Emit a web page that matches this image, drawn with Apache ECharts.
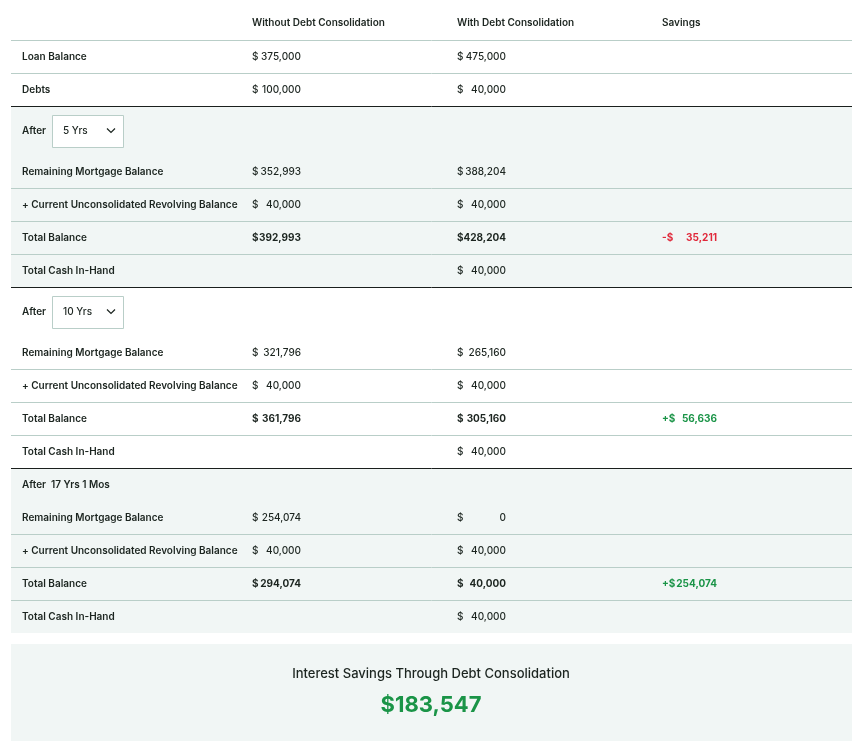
<!DOCTYPE html>
<html><head><meta charset="utf-8">
<script src="https://cdn.jsdelivr.net/npm/echarts@6/dist/echarts.min.js"></script>
<style>html,body{margin:0;padding:0;background:#fff}#c{width:863px;height:753px}</style>
</head><body><div id="c"></div>
<script>
const columns = ['Without Debt Consolidation', 'With Debt Consolidation', 'Savings'];
const topLabels = ['Loan Balance', 'Debts'];
const topWithout = [375000, 100000];
const topWith = [475000, 40000];
const periods = ['5 Yrs', '10 Yrs', '17 Yrs 1 Mos'];
const rowLabels = ['Remaining Mortgage Balance', '+ Current Unconsolidated Revolving Balance', 'Total Balance', 'Total Cash In-Hand'];
const remainingWithout = [352993, 321796, 254074];
const remainingWith = [388204, 265160, 0];
const revolvingWithout = [40000, 40000, 40000];
const revolvingWith = [40000, 40000, 40000];
const totalWithout = [392993, 361796, 294074];
const totalWith = [428204, 305160, 40000];
const savings = [-35211, 56636, 254074];
const cashInHand = [40000, 40000, 40000];
const interestSavings = 183547;

const FONT = 'Inter, "Noto Sans", sans-serif';
const INK = '#1c2520';
const SHADE = '#f1f6f5';
const THIN = '#b9cec8';
const X0 = 11, X1 = 852;
const COL = [22, 252, 457, 662];
const NUM_R = [301, 506, 717];
const g = [];
const fmt = v => v.toLocaleString('en-US');

function text(x, y, s, opt) {
  g.push({type: 'text', x: x, y: y, style: Object.assign({text: s, fill: INK, font: '500 10px ' + FONT, textVerticalAlign: 'middle'}, opt || {})});
}
function hline(y, color) {
  g.push({type: 'line', shape: {x1: X0, y1: y, x2: X1, y2: y}, style: {stroke: color, lineWidth: 1}});
}
function money(col, y, v, bold, color) {
  const font = (bold ? '700' : '500') + ' 10px ' + FONT;
  const fill = color || INK;
  const prefix = v < 0 ? '-$' : (color && v > 0 ? '+$' : '$');
  text(COL[col + 1], y, prefix, {font: font, fill: fill});
  text(NUM_R[col], y, fmt(Math.abs(v)), {font: font, fill: fill, textAlign: 'right'});
}

// header
columns.forEach((c, i) => text(COL[i + 1], 23, c, {font: '600 10px ' + FONT}));
hline(40.5, THIN);
topLabels.forEach((l, i) => {
  const y = 40 + i * 33 + 16.5;
  text(COL[0], y, l, {font: '600 10px ' + FONT});
  money(0, y, topWithout[i]);
  money(1, y, topWith[i]);
  if (i === 0) hline(73.5, THIN);
});

const starts = [106, 287, 468];
starts.forEach((y0, s) => {
  const headH = s < 2 ? 49 : 33;
  if (s !== 1) g.push({type: 'rect', shape: {x: X0, y: y0, width: X1 - X0, height: headH + 4 * 33}, style: {fill: SHADE}});
  hline(y0 + 0.5, '#1a1f1d');
  if (s < 2) {
    const hy = y0 + 24.5;
    text(COL[0], hy, 'After', {font: '600 10px ' + FONT});
    g.push({type: 'rect', shape: {x: 52.5, y: y0 + 9.5, width: 71, height: 32}, style: {fill: '#fff', stroke: THIN, lineWidth: 1}});
    text(63, hy, periods[s]);
    g.push({type: 'polyline', shape: {points: [[107, hy - 2], [111, hy + 2], [115, hy - 2]]}, style: {stroke: INK, lineWidth: 1.2, fill: null}});
  } else {
    text(COL[0], y0 + 16.5, 'After  ' + periods[s], {font: '600 10px ' + FONT});
  }
  const vals = [
    [remainingWithout[s], remainingWith[s]],
    [revolvingWithout[s], revolvingWith[s]],
    [totalWithout[s], totalWith[s]],
    [null, cashInHand[s]]
  ];
  rowLabels.forEach((l, r) => {
    const ry = y0 + headH + r * 33;
    const cy = ry + 16.5;
    if (r > 0) hline(ry + 0.5, THIN);
    text(COL[0], cy, l, {font: '600 10px ' + FONT});
    const bold = r === 2;
    if (vals[r][0] !== null) money(0, cy, vals[r][0], bold);
    money(1, cy, vals[r][1], bold);
    if (r === 2) money(2, cy, savings[s], true, savings[s] < 0 ? '#e0283a' : '#1a9447');
  });
});

// summary box
g.push({type: 'rect', shape: {x: X0, y: 644, width: X1 - X0, height: 97}, style: {fill: SHADE}});
text(431, 674, 'Interest Savings Through Debt Consolidation', {font: '500 13px ' + FONT, textAlign: 'center'});
text(431, 705, '$' + fmt(interestSavings), {font: '700 22px ' + FONT, textAlign: 'center', fill: '#1a9447'});

const chart = echarts.init(document.getElementById('c'));
chart.setOption({animation: false, backgroundColor: '#fff', graphic: {elements: g}});
</script>
</body></html>
